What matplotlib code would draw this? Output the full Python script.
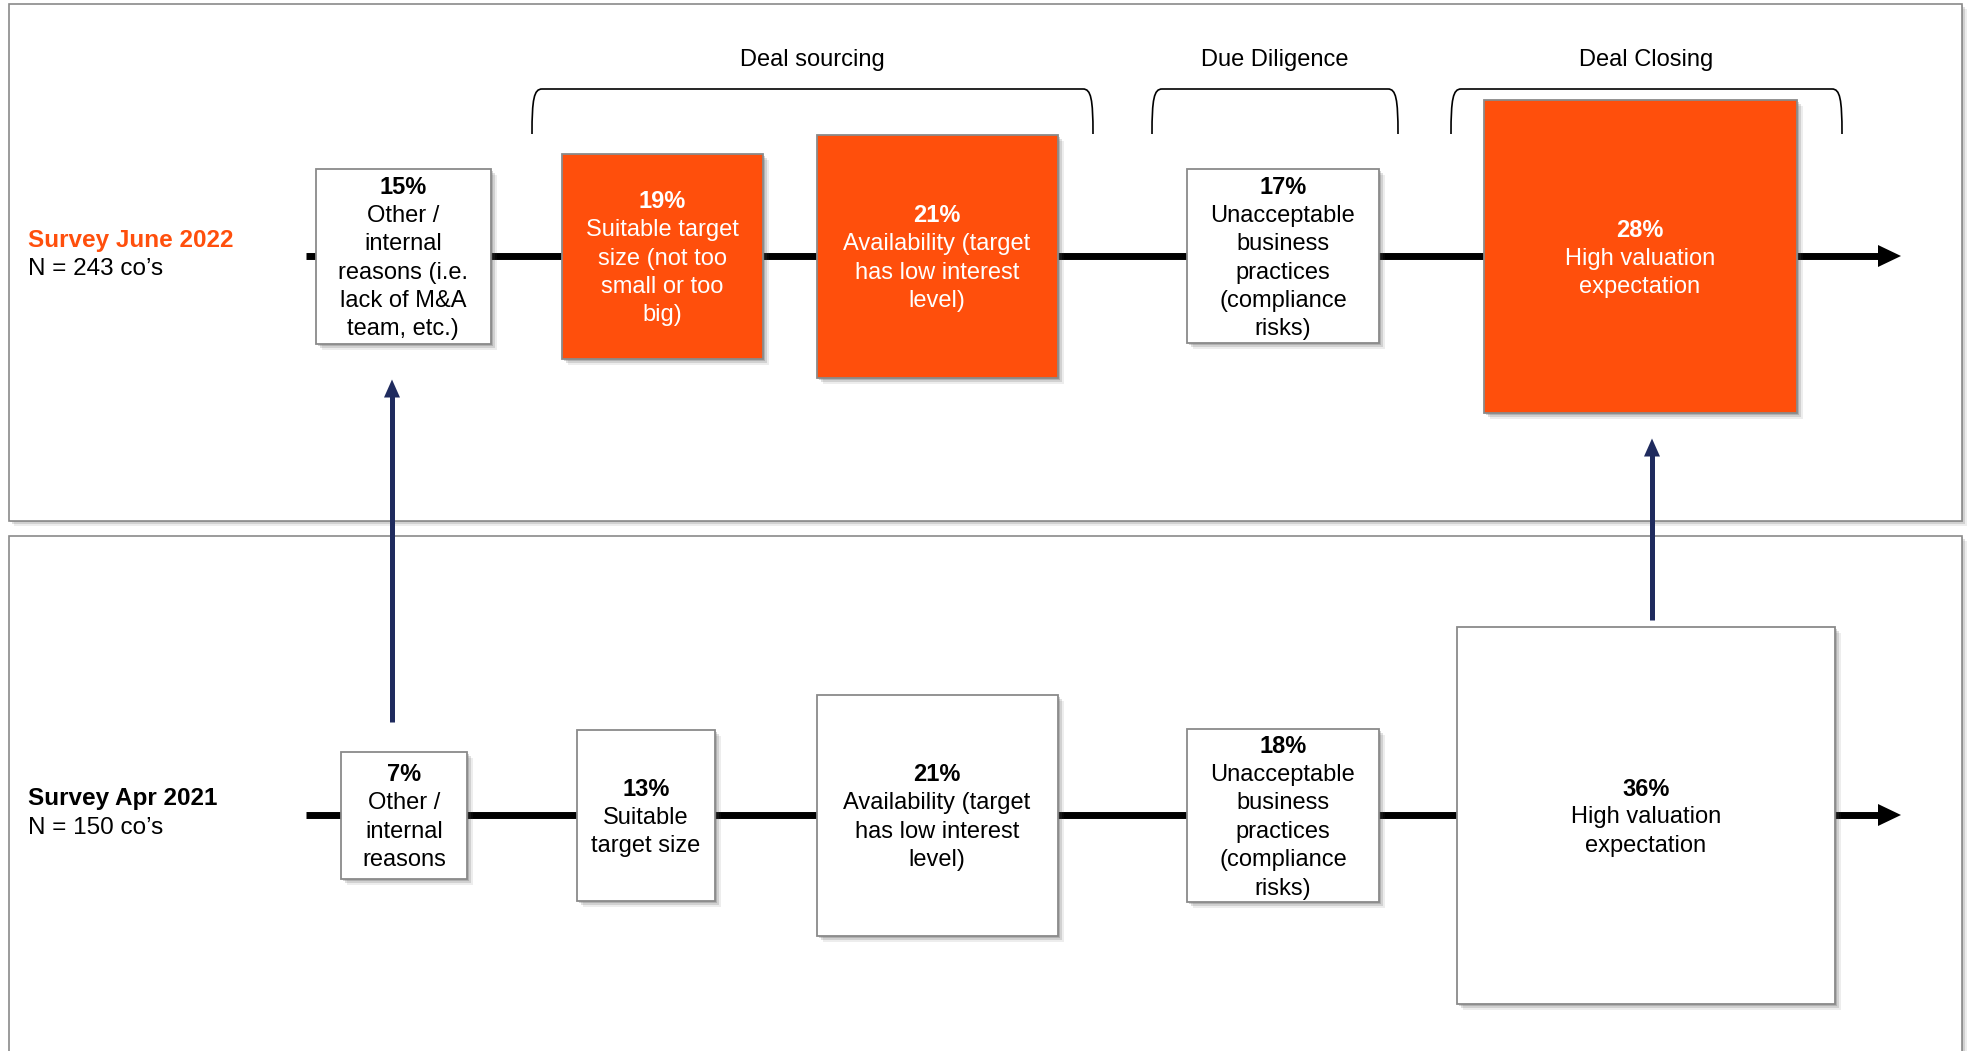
import matplotlib.pyplot as plt
from matplotlib.patches import Rectangle, Polygon, PathPatch
from matplotlib.path import Path

plt.rcParams['font.family'] = ['Liberation Sans', 'DejaVu Sans']

# survey rows
surveys = ["Survey June 2022", "Survey Apr 2021"]
sample_sizes = [243, 150]
stages = ["Deal sourcing", "Due Diligence", "Deal Closing"]

pct_2022 = [15, 19, 21, 17, 28]
labels_2022 = [
    ["Other /", "internal", "reasons (i.e.", "lack of M&A", "team, etc.)"],
    ["Suitable target", "size (not too", "small or too", "big)"],
    ["Availability (target", "has low interest", "level)"],
    ["Unacceptable", "business", "practices", "(compliance", "risks)"],
    ["High valuation", "expectation"],
]
top3_2022 = [False, True, True, False, True]

pct_2021 = [7, 13, 21, 18, 36]
labels_2021 = [
    ["Other /", "internal", "reasons"],
    ["Suitable", "target size"],
    ["Availability (target", "has low interest", "level)"],
    ["Unacceptable", "business", "practices", "(compliance", "risks)"],
    ["High valuation", "expectation"],
]
top3_2021 = [False, False, False, False, False]

# reasons whose share changed most between the surveys
moved_up = [0, 4]

ORANGE = "#FF4F0C"
NAVY = "#1F2B5E"
GREY = "#8A8A8A"

# layout in pixel units: (centre x, width, height) per box, timeline y per row
row_y = [256, 815]
boxes = [
    [(403, 175, 175), (662, 201, 205), (937, 241, 243), (1283, 192, 174), (1640, 313, 313)],
    [(404, 126, 127), (646, 138, 171), (937, 241, 241), (1283, 192, 173), (1646, 378, 377)],
]
brackets = [(532, 1093), (1152, 1398), (1451, 1842)]
PITCH = 28.4
FS = 17

fig = plt.figure(figsize=(19.68, 10.51), dpi=100)
ax = fig.add_axes([0, 0, 1, 1])
ax.set_xlim(0, 1968)
ax.set_ylim(1051, 0)
ax.axis("off")


def shadowed_rect(x, y, w, h, face, edge, lw, z, off=4):
    for k, a in zip([off + 2, off, off - 2], [0.10, 0.18, 0.25]):
        ax.add_patch(Rectangle((x + k, y + k), w, h, facecolor="#555555",
                               edgecolor="none", alpha=a, zorder=z - 0.1))
    ax.add_patch(Rectangle((x, y), w, h, facecolor=face, edgecolor=edge,
                           linewidth=lw, zorder=z))


# panels
shadowed_rect(9, 4, 1953, 517, "white", GREY, 1.2, 0.5, off=3)
shadowed_rect(9, 536, 1953, 530, "white", GREY, 1.2, 0.5, off=3)

# stage brackets
for (x0, x1), name in zip(brackets, stages):
    yt, yb = 89, 134
    verts = [(x0, yb), (x0, yt + 10), (x0 + 2, yt), (x0 + 10, yt),
             (x1 - 10, yt), (x1 - 2, yt), (x1, yt + 10), (x1, yb)]
    codes = [Path.MOVETO, Path.CURVE4, Path.CURVE4, Path.CURVE4,
             Path.LINETO, Path.CURVE4, Path.CURVE4, Path.CURVE4]
    ax.add_patch(PathPatch(Path(verts, codes), facecolor="none",
                           edgecolor="black", linewidth=1.2, zorder=2))
    ax.text((x0 + x1) / 2, 60, name, ha="center", va="center", fontsize=FS)

rows = [(pct_2022, labels_2022, top3_2022), (pct_2021, labels_2021, top3_2021)]
for r, (pcts, labels, top3) in enumerate(rows):
    y = row_y[r]
    # timeline with arrowhead
    ax.plot([306, 1880], [y, y], color="black", linewidth=5,
            solid_capstyle="butt", zorder=1)
    ax.add_patch(Polygon([(1878, y - 11), (1901, y), (1878, y + 11)],
                         closed=True, facecolor="black", edgecolor="none", zorder=1))

    # survey label
    ax.text(28, y - 16, surveys[r], ha="left", va="center", fontsize=17.5,
            fontweight="bold", color=ORANGE if r == 0 else "black")
    ax.text(28, y + 13, f"N = {sample_sizes[r]} co\u2019s", ha="left",
            va="center", fontsize=17.5)

    for (cx, w, h), p, lab, hi in zip(boxes[r], pcts, labels, top3):
        face = ORANGE if hi else "white"
        tc = "white" if hi else "black"
        shadowed_rect(cx - w / 2, y - h / 2, w, h, face, GREY, 1.3, 3)
        lines = [f"{p}%"] + lab
        n = len(lines)
        for k, line in enumerate(lines):
            ly = y + (k - (n - 1) / 2) * PITCH
            ax.text(cx, ly, line, ha="center", va="center_baseline",
                    fontsize=FS, color=tc, zorder=4,
                    fontweight="bold" if k == 0 else "normal")

# arrows showing the shift from 2021 to 2022
for i, (g_low, g_high) in zip(moved_up, [(30, 36), (7, 26)]):
    cx_low, _, h_low = boxes[1][i]
    cx_up, _, h_up = boxes[0][i]
    x = cx_low - 12 if i == 0 else cx_up + 12
    y0 = row_y[1] - h_low / 2 - g_low
    y1 = row_y[0] + h_up / 2 + g_high
    ax.plot([x, x], [y0, y1 + 16], color=NAVY, linewidth=3.6,
            solid_capstyle="butt", zorder=2)
    ax.add_patch(Polygon([(x - 8, y1 + 18), (x, y1), (x + 8, y1 + 18)],
                         closed=True, facecolor=NAVY, edgecolor="none", zorder=2))

fig.savefig("out.png", dpi=100)
